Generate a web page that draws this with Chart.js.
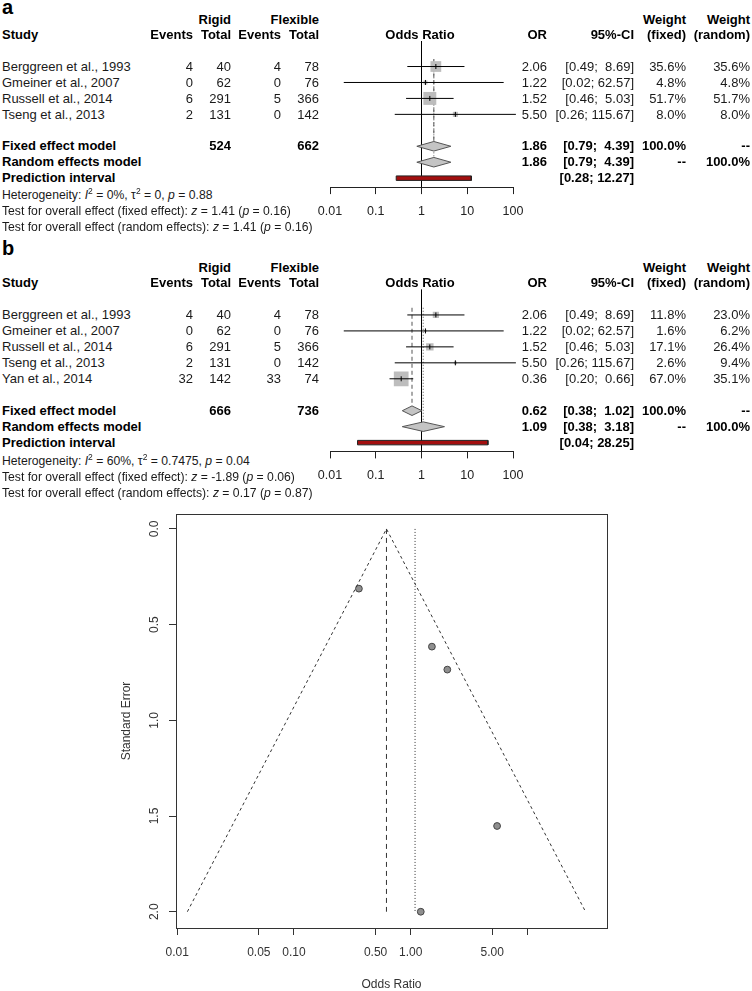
<!DOCTYPE html>
<html>
<head>
<meta charset="utf-8">
<script src="https://cdn.jsdelivr.net/npm/chart.js@4.4.1/dist/chart.umd.min.js"></script>
<style>
    body { margin: 0; background: #fff; width: 752px; height: 991px; position: relative; overflow: hidden;
           font-family: "Liberation Sans", Arial, Helvetica, sans-serif; }
    .t { position: absolute; font-size: 13px; line-height: 16px; white-space: pre; color: #1a1a1a; }
    .b { font-weight: bold; color: #000; }
    .f { font-size: 12.2px; }
    .t sup { font-size: 8.5px; vertical-align: 0; position: relative; top: -5px; line-height: 0; }
    .lett { position: absolute; font-size: 20px; line-height: 20px; font-weight: bold; left: 2px; }
    canvas { position: absolute; }
</style>
</head>
<body>
<div class="lett" style="top:-3px">a</div>
<div class="lett" style="top:238px">b</div>
<canvas id="forestA"></canvas>
<canvas id="forestB"></canvas>
<canvas id="funnel"></canvas>
<script>
// Dati pannello a (senza Yan et al.)
const studiesA = ['Berggreen et al., 1993', 'Gmeiner et al., 2007', 'Russell et al., 2014', 'Tseng et al., 2013'];
const eventsRigidA = [4, 0, 6, 2];
const totalRigidA = [40, 62, 291, 131];
const eventsFlexA = [4, 0, 5, 0];
const totalFlexA = [78, 76, 366, 142];
const orA = [2.06, 1.22, 1.52, 5.50];
const lowerA = [0.49, 0.02, 0.46, 0.26];
const upperA = [8.69, 62.57, 5.03, 115.67];
const weightFixedA = [35.6, 4.8, 51.7, 8.0];
const weightRandomA = [35.6, 4.8, 51.7, 8.0];
const sumTotalsA = [524, 662];
const fixedA = [1.86, 0.79, 4.39];
const randomA = [1.86, 0.79, 4.39];
const predictA = [0.28, 12.27];
const heterA = ['0%', '0', '0.88'];
const testFixedA = ['1.41', '0.16'];
const testRandomA = ['1.41', '0.16'];

// Dati pannello b
const studiesB = ['Berggreen et al., 1993', 'Gmeiner et al., 2007', 'Russell et al., 2014', 'Tseng et al., 2013', 'Yan et al., 2014'];
const eventsRigidB = [4, 0, 6, 2, 32];
const totalRigidB = [40, 62, 291, 131, 142];
const eventsFlexB = [4, 0, 5, 0, 33];
const totalFlexB = [78, 76, 366, 142, 74];
const orB = [2.06, 1.22, 1.52, 5.50, 0.36];
const lowerB = [0.49, 0.02, 0.46, 0.26, 0.20];
const upperB = [8.69, 62.57, 5.03, 115.67, 0.66];
const weightFixedB = [11.8, 1.6, 17.1, 2.6, 67.0];
const weightRandomB = [23.0, 6.2, 26.4, 9.4, 35.1];
const sumTotalsB = [666, 736];
const fixedB = [0.62, 0.38, 1.02];
const randomB = [1.09, 0.38, 3.18];
const predictB = [0.04, 28.25];
const heterB = ['60%', '0.7475', '0.04'];
const testFixedB = ['-1.89', '0.06'];
const testRandomB = ['0.17', '0.87'];

// Asse delle forest plot
const forestTicks = [0.01, 0.1, 1, 10, 100];
const forestTickLabels = ['0.01', '0.1', '1', '10', '100'];

// Funnel plot
const funnelOR = [2.06, 1.22, 1.52, 5.50, 0.36];
const funnelSE = [0.735, 2.0, 0.615, 1.552, 0.312];
const funnelEdgeOR = [0.0122, 0.62, 31.5];
const funnelEdgeSE = [2, 0, 2];
const funnelFixed = 0.62;
const funnelRandom = 1.09;
const funnelXTicks = [0.01, 0.05, 0.1, 0.5, 1, 5, 10];
const funnelXLabels = ['0.01', '0.05', '0.10', '0.50', '1.00', '5.00', ''];
const funnelYTicks = [0, 0.5, 1, 1.5, 2];
const funnelYLabels = ['0.0', '0.5', '1.0', '1.5', '2.0'];

const FONT = '"Liberation Sans", Arial, Helvetica, sans-serif';
Chart.defaults.font.family = FONT;

const col = { name: 2, evR: 193, totR: 231, evF: 281, totF: 319, plot: 420, or: 547, ci: 634, wF: 686, wR: 750 };

function put(text, x, y, align, cls, html) {
    const d = document.createElement('div');
    d.className = 't' + (cls ? ' ' + cls : '');
    if (html) d.innerHTML = text; else d.textContent = text;
    d.style.top = (y - 8) + 'px';
    if (align === 'right') {
        d.style.right = (752 - x) + 'px';
        d.style.textAlign = 'right';
    } else if (align === 'center') {
        d.style.left = (x - 100) + 'px';
        d.style.width = '200px';
        d.style.textAlign = 'center';
    } else {
        d.style.left = x + 'px';
    }
    document.body.appendChild(d);
}

function ciText(lo, hi) {
    return '[' + lo.toFixed(2) + '; ' + hi.toFixed(2).padStart(5, ' ') + ']';
}

// Testo della tabella di un pannello
function writePanel(p) {
    put('Rigid', col.totR, p.h1, 'right', 'b');
    put('Flexible', col.totF, p.h1, 'right', 'b');
    put('Weight', col.wF, p.h1, 'right', 'b');
    put('Weight', col.wR, p.h1, 'right', 'b');
    put('Study', col.name, p.h2, 'left', 'b');
    put('Events', col.evR, p.h2, 'right', 'b');
    put('Total', col.totR, p.h2, 'right', 'b');
    put('Events', col.evF, p.h2, 'right', 'b');
    put('Total', col.totF, p.h2, 'right', 'b');
    put('Odds Ratio', col.plot, p.h2, 'center', 'b');
    put('OR', col.or, p.h2, 'right', 'b');
    put('95%-CI', col.ci, p.h2, 'right', 'b');
    put('(fixed)', col.wF, p.h2, 'right', 'b');
    put('(random)', col.wR, p.h2, 'right', 'b');

    p.studies.forEach((s, i) => {
        const y = p.y0 + p.step * i;
        put(s, col.name, y);
        put(String(p.evR[i]), col.evR, y, 'right');
        put(String(p.totR[i]), col.totR, y, 'right');
        put(String(p.evF[i]), col.evF, y, 'right');
        put(String(p.totF[i]), col.totF, y, 'right');
        put(p.or[i].toFixed(2), col.or, y, 'right');
        put(ciText(p.lo[i], p.hi[i]), col.ci, y, 'right');
        put(p.wF[i].toFixed(1) + '%', col.wF, y, 'right');
        put(p.wR[i].toFixed(1) + '%', col.wR, y, 'right');
    });

    const yF = p.y0 + p.step * p.fixedRow;
    put('Fixed effect model', col.name, yF, 'left', 'b');
    put(String(p.totals[0]), col.totR, yF, 'right', 'b');
    put(String(p.totals[1]), col.totF, yF, 'right', 'b');
    put(p.fixed[0].toFixed(2), col.or, yF, 'right', 'b');
    put(ciText(p.fixed[1], p.fixed[2]), col.ci, yF, 'right', 'b');
    put('100.0%', col.wF, yF, 'right', 'b');
    put('--', col.wR, yF, 'right', 'b');

    const yR = yF + p.step;
    put('Random effects model', col.name, yR, 'left', 'b');
    put(p.random[0].toFixed(2), col.or, yR, 'right', 'b');
    put(ciText(p.random[1], p.random[2]), col.ci, yR, 'right', 'b');
    put('--', col.wF, yR, 'right', 'b');
    put('100.0%', col.wR, yR, 'right', 'b');

    const yP = yR + p.step;
    put('Prediction interval', col.name, yP, 'left', 'b');
    put(ciText(p.predict[0], p.predict[1]), col.ci, yP, 'right', 'b');

    const yH = yP + p.step + p.footShift;
    put('Heterogeneity: <i>I</i><sup>2</sup> = ' + p.heter[0] + ', \u03c4<sup>2</sup> = ' + p.heter[1] +
        ', <i>p</i> = ' + p.heter[2], col.name, yH, 'left', 'f', true);
    put('Test for overall effect (fixed effect): <i>z</i> = ' + p.tFixed[0] + ' (<i>p</i> = ' + p.tFixed[1] + ')',
        col.name, yH + p.step, 'left', 'f', true);
    put('Test for overall effect (random effects): <i>z</i> = ' + p.tRandom[0] + ' (<i>p</i> = ' + p.tRandom[1] + ')',
        col.name, yH + 2 * p.step, 'left', 'f', true);
}

// Grafico della forest plot con Chart.js
function drawForest(id, p) {
    const canvas = document.getElementById(id);
    const padTop = 10;
    const areaH = (p.yMax - p.yMin) * p.step;
    const chartTop = p.y0 + p.yMin * p.step;
    const H = Math.round(padTop + areaH + 36);
    const axisH = H - padTop - areaH;
    canvas.width = 240; canvas.height = H;
    canvas.style.left = '300px';
    canvas.style.top = (chartTop - padTop) + 'px';
    canvas.style.width = '240px'; canvas.style.height = H + 'px';

    const dH = 0.3;   // mezza altezza dei diamanti (righe)
    const pH = 0.14;  // mezza altezza dell'intervallo di predizione
    const lineTop = -0.45;
    const rowF = p.fixedRow, rowR = p.fixedRow + 1, rowP = p.fixedRow + 2;

    const datasets = [];
    datasets.push({ data: [{ x: 1, y: p.yMin }, { x: 1, y: p.yMax }], showLine: true,
        borderColor: '#000', borderWidth: 1, pointRadius: 0, order: 5 });
    datasets.push({ data: [{ x: p.fixed[0], y: lineTop }, { x: p.fixed[0], y: rowF - dH }], showLine: true,
        borderColor: '#555', borderWidth: 1, borderDash: [4, 3], pointRadius: 0, order: 5 });
    datasets.push({ data: [{ x: p.random[0], y: lineTop }, { x: p.random[0], y: rowR - dH }], showLine: true,
        borderColor: '#555', borderWidth: 1, borderDash: [1, 2], pointRadius: 0, order: 5 });
    // quadrati pesati
    datasets.push({ data: p.or.map((v, i) => ({ x: v, y: i })), pointStyle: 'rect',
        pointRadius: p.wF.map(w => Math.sqrt(w) * 1.8 / Math.SQRT2),
        backgroundColor: '#bdbdbd', pointBackgroundColor: '#bdbdbd', pointBorderWidth: 0, borderWidth: 0, order: 4 });
    // intervalli di confidenza
    p.or.forEach((v, i) => {
        datasets.push({ data: [{ x: p.lo[i], y: i }, { x: p.hi[i], y: i }], showLine: true,
            borderColor: '#000', borderWidth: 1, pointRadius: 0, order: 2, clip: false });
    });
    // stima puntuale
    datasets.push({ data: p.or.map((v, i) => ({ x: v, y: i })), pointStyle: 'line', pointRotation: 90,
        pointRadius: 2.5, pointBorderColor: '#000', borderColor: '#000', pointBorderWidth: 1, order: 1 });
    // diamanti
    [[p.fixed, rowF], [p.random, rowR]].forEach(([m, r]) => {
        datasets.push({ data: [{ x: m[1], y: r }, { x: m[0], y: r - dH }, { x: m[2], y: r }, { x: m[0], y: r + dH }, { x: m[1], y: r }],
            showLine: true, fill: 'shape', backgroundColor: '#c4c4c4', borderColor: '#555', borderWidth: 1,
            pointRadius: 0, order: 3 });
    });
    // intervallo di predizione
    datasets.push({ data: [{ x: p.predict[0], y: rowP - pH }, { x: p.predict[1], y: rowP - pH },
            { x: p.predict[1], y: rowP + pH }, { x: p.predict[0], y: rowP + pH }, { x: p.predict[0], y: rowP - pH }],
        showLine: true, fill: 'shape', backgroundColor: '#a30f0f', borderColor: '#222', borderWidth: 1,
        pointRadius: 0, order: 3 });

    new Chart(canvas.getContext('2d'), {
        type: 'scatter',
        data: { datasets: datasets },
        options: {
            responsive: false, animation: false, devicePixelRatio: 1,
            layout: { padding: { left: 30, right: 27, top: padTop, bottom: 0 } },
            plugins: { legend: { display: false }, tooltip: { enabled: false } },
            scales: {
                x: {
                    type: 'logarithmic', min: 0.01, max: 100, position: 'bottom',
                    afterBuildTicks: s => { s.ticks = forestTicks.map(v => ({ value: v })); },
                    afterFit: s => { s.height = axisH; },
                    grid: { drawOnChartArea: false, drawTicks: true, tickLength: 7, color: '#222' },
                    border: { display: true, color: '#222' },
                    ticks: { padding: 10, color: '#222', font: { size: 12.5 }, maxRotation: 0, autoSkip: false,
                        callback: v => forestTickLabels[forestTicks.indexOf(v)] }
                },
                y: { type: 'linear', reverse: true, min: p.yMin, max: p.yMax, display: false }
            }
        }
    });
}

const panelA = {
    studies: studiesA, evR: eventsRigidA, totR: totalRigidA, evF: eventsFlexA, totF: totalFlexA,
    or: orA, lo: lowerA, hi: upperA, wF: weightFixedA, wR: weightRandomA, totals: sumTotalsA,
    fixed: fixedA, random: randomA, predict: predictA, heter: heterA, tFixed: testFixedA, tRandom: testRandomA,
    h1: 20, h2: 35, y0: 66.7, step: 15.95, fixedRow: 5, footShift: 0.5, yMin: -1.6, yMax: 7.56
};
const panelB = {
    studies: studiesB, evR: eventsRigidB, totR: totalRigidB, evF: eventsFlexB, totF: totalFlexB,
    or: orB, lo: lowerB, hi: upperB, wF: weightFixedB, wR: weightRandomB, totals: sumTotalsB,
    fixed: fixedB, random: randomB, predict: predictB, heter: heterB, tFixed: testFixedB, tRandom: testRandomB,
    h1: 267.5, h2: 283, y0: 315, step: 16, fixedRow: 6, footShift: 1.5, yMin: -1.6, yMax: 8.55
};

writePanel(panelA);
writePanel(panelB);
drawForest('forestA', panelA);
drawForest('forestB', panelB);

// Funnel plot
const boxPlugin = {
    id: 'box',
    afterDraw(chart) {
        const { ctx, chartArea: a } = chart;
        ctx.save();
        ctx.strokeStyle = '#333';
        ctx.lineWidth = 1;
        ctx.strokeRect(Math.round(a.left) + 0.5, Math.round(a.top) + 0.5,
            Math.round(a.right - a.left), Math.round(a.bottom - a.top));
        // etichette asse y ruotate come in R
        const s = chart.scales.y;
        ctx.font = '12px ' + FONT;
        ctx.fillStyle = '#333';
        ctx.textAlign = 'center';
        ctx.textBaseline = 'middle';
        s.ticks.forEach((t, i) => {
            ctx.save();
            ctx.translate(s.right - 21, s.getPixelForValue(t.value));
            ctx.rotate(-Math.PI / 2);
            ctx.fillText(funnelYLabels[i], 0, 0);
            ctx.restore();
        });
        ctx.restore();
    }
};

const fc = document.getElementById('funnel');
fc.width = 752; fc.height = 496;
fc.style.left = '0px'; fc.style.top = '496px';
fc.style.width = '752px'; fc.style.height = '496px';

new Chart(fc.getContext('2d'), {
    type: 'scatter',
    data: {
        datasets: [
            { data: funnelEdgeOR.map((v, i) => ({ x: v, y: funnelEdgeSE[i] })), showLine: true,
              borderColor: '#333', borderWidth: 1, borderDash: [3, 3], pointRadius: 0 },
            { data: [{ x: funnelFixed, y: 0 }, { x: funnelFixed, y: 2 }], showLine: true,
              borderColor: '#333', borderWidth: 1, borderDash: [5, 4], pointRadius: 0 },
            { data: [{ x: funnelRandom, y: 0 }, { x: funnelRandom, y: 2 }], showLine: true,
              borderColor: '#333', borderWidth: 1, borderDash: [1, 2], pointRadius: 0 },
            { data: funnelOR.map((v, i) => ({ x: v, y: funnelSE[i] })), pointRadius: 3.4,
              pointBackgroundColor: '#8f8f8f', backgroundColor: '#8f8f8f', pointBorderColor: '#444', borderColor: '#444',
              pointBorderWidth: 1 }
        ]
    },
    options: {
        responsive: false, animation: false, devicePixelRatio: 1,
        layout: { padding: { left: 0, right: 145, top: 18, bottom: 0 } },
        plugins: { legend: { display: false }, tooltip: { enabled: false } },
        scales: {
            x: {
                type: 'logarithmic', min: 0.00975, max: 48.1, position: 'bottom',
                afterBuildTicks: s => { s.ticks = funnelXTicks.map(v => ({ value: v })); },
                afterFit: s => { s.height = 64; },
                grid: { drawOnChartArea: false, drawTicks: true, tickLength: 7, color: '#333' },
                border: { display: true, color: '#333' },
                ticks: { padding: 10, color: '#333', font: { size: 12 }, maxRotation: 0, autoSkip: false,
                    callback: v => funnelXLabels[funnelXTicks.indexOf(v)] },
                title: { display: true, text: 'Odds Ratio', color: '#333', font: { size: 12 }, padding: { top: 0, bottom: 0 } }
            },
            y: {
                type: 'linear', reverse: true, min: -0.078, max: 2.085, position: 'left',
                afterBuildTicks: s => { s.ticks = funnelYTicks.map(v => ({ value: v })); },
                afterFit: s => { s.width = 176; },
                grid: { drawOnChartArea: false, drawTicks: true, tickLength: 7, color: '#333' },
                border: { display: true, color: '#333' },
                ticks: { display: false },
                title: { display: true, text: 'Standard Error', color: '#333', font: { size: 12 }, padding: { top: 119, bottom: 0 } }
            }
        }
    },
    plugins: [boxPlugin]
});
</script>
</body>
</html>
